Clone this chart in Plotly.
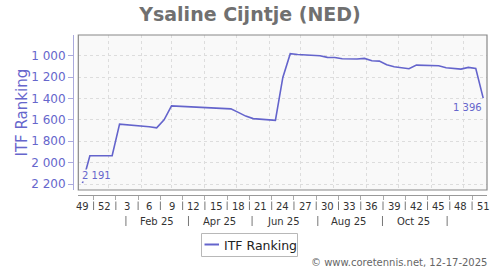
import datetime as dt
import plotly.graph_objects as go

# ---------------- data ----------------
weeks = [49, 50, 51, 52, 1, 2, 3, 4, 5, 6, 7, 8, 9, 10, 11, 12, 13, 14, 15, 16,
         17, 18, 19, 20, 21, 22, 23, 24, 25, 26, 27, 28, 29, 30, 31, 32, 33, 34,
         35, 36, 37, 38, 39, 40, 41, 42, 43, 44, 45, 46, 47, 48, 49, 50, 51]
week_years = [2024, 2024, 2024, 2024] + [2025] * 51
ranks = [2191, 1935, 1935, 1935, 1935, 1640, 1645, 1648, 1655, 1665, 1675, 1600,
         1469, 1473, 1478, 1482, 1485, 1486, 1488, 1492, 1497, 1530, 1565, 1588,
         1595, 1600, 1605, 1203, 981, 988, 994, 996, 1000, 1015, 1016, 1028, 1030,
         1031, 1025, 1047, 1050, 1084, 1103, 1112, 1122, 1088, 1088, 1088, 1094,
         1113, 1120, 1125, 1109, 1119, 1396]
week_tick_labels = ["49", "52", "3", "6", "9", "12", "15", "18", "21", "24", "27",
                    "30", "33", "36", "39", "42", "45", "48", "51"]
month_labels = ["Feb 25", "Apr 25", "Jun 25", "Aug 25", "Oct 25"]
month_label_dates = ["2025-02-15", "2025-04-15", "2025-06-15", "2025-08-15", "2025-10-15"]
month_sep_dates = ["2025-01-17", "2025-03-17", "2025-05-16", "2025-07-17", "2025-09-16", "2025-11-16"]
grid_dates = ["2025-01-01", "2025-02-01", "2025-03-01", "2025-04-01", "2025-05-01",
              "2025-06-01", "2025-07-01", "2025-08-01", "2025-09-01", "2025-10-01",
              "2025-11-01", "2025-12-01"]
y_ticks = [1000, 1200, 1400, 1600, 1800, 2000, 2200]
y_tick_text = ["1 000", "1 200", "1 400", "1 600", "1 800", "2 000", "2 200"]

title_text = "Ysaline Cijntje (NED)"
series_name = "ITF Ranking"
credit = "© www.coretennis.net, 12-17-2025"

# ---------------- helpers ----------------
W, H = 500, 270
ML, MR, MT, MB = 73, 13, 35, 75
PW, PH = W - ML - MR, H - MT - MB


def px2x(p):
    return (p - ML) / PW


def px2y(p):
    return (H - MB - p) / PH


def fmt(v):
    return f"{v:,}".replace(",", " ")


dates = [dt.datetime.combine(dt.date.fromisocalendar(y, w, 6), dt.time())
         for y, w in zip(week_years, weeks)]
label_idx = list(range(0, len(weeks), 3))
label_dates = [dates[i] for i in label_idx]
sep_dates = [label_dates[k] + (label_dates[k + 1] - label_dates[k]) / 2
             for k in range(len(label_dates) - 1)]

LINE = "#6464cc"
BLUE_TXT = "#6666cc"
GRID_DASH = "3px,3px"

fig = go.Figure()
fig.add_trace(go.Scatter(x=dates, y=ranks, mode="lines", name=series_name,
                         line=dict(color=LINE, width=1.6), showlegend=False,
                         hoverinfo="skip"))

shapes = []
annotations = []

# plot border
shapes.append(dict(type="rect", xref="x domain", yref="y domain", x0=0, x1=1, y0=0, y1=1,
                   line=dict(color="#888888", width=1.2), layer="above"))

# week labels + separators
for d, t in zip(label_dates, week_tick_labels):
    annotations.append(dict(x=d, y=px2y(206), xref="x", yref="paper", text=t,
                            showarrow=False, xanchor="center", yanchor="middle",
                            font=dict(family="DejaVu Sans", size=10, color="#333333")))
for d in sep_dates:
    shapes.append(dict(type="line", xref="x", yref="paper", x0=d, x1=d,
                       y0=px2y(201.5), y1=px2y(210), line=dict(color="#777777", width=1)))

# month labels + separators
for d, t in zip(month_label_dates, month_labels):
    annotations.append(dict(x=d, y=px2y(221), xref="x", yref="paper", text=t,
                            showarrow=False, xanchor="center", yanchor="middle",
                            font=dict(family="DejaVu Sans", size=10, color="#333333")))
for d in month_sep_dates:
    shapes.append(dict(type="line", xref="x", yref="paper", x0=d, x1=d,
                       y0=px2y(216), y1=px2y(226), line=dict(color="#777777", width=1)))

# value labels
annotations.append(dict(x=dates[0], y=ranks[0], xref="x", yref="y", text=fmt(ranks[0]),
                        showarrow=False, xanchor="left", yanchor="middle", yshift=8, xshift=-1,
                        bgcolor="#f9f9f9", borderpad=0,
                        font=dict(family="DejaVu Sans", size=10, color=BLUE_TXT)))
annotations.append(dict(x=dates[-1], y=ranks[-1], xref="x", yref="y", text=fmt(ranks[-1]),
                        showarrow=False, xanchor="right", yanchor="middle", yshift=-9, xshift=1,
                        font=dict(family="DejaVu Sans", size=10, color=BLUE_TXT)))

# y axis title
annotations.append(dict(x=px2x(21), y=px2y(112.5), xref="paper", yref="paper",
                        text=series_name, textangle=-90, showarrow=False,
                        xanchor="center", yanchor="middle",
                        font=dict(family="DejaVu Sans", size=15, color=BLUE_TXT)))

# legend (drawn manually)
shapes.append(dict(type="rect", xref="paper", yref="paper", x0=px2x(201.5), x1=px2x(297.5),
                   y0=px2y(256.5), y1=px2y(233.5), line=dict(color="#b8b8b8", width=1),
                   fillcolor="white"))
shapes.append(dict(type="line", xref="paper", yref="paper", x0=px2x(204.5), x1=px2x(219),
                   y0=px2y(244.5), y1=px2y(244.5), line=dict(color=LINE, width=2)))
annotations.append(dict(x=px2x(222), y=px2y(245), xref="paper", yref="paper",
                        text=series_name, showarrow=False, xanchor="left", yanchor="middle",
                        font=dict(family="DejaVu Sans", size=12.5, color="#222222")))

# credit
annotations.append(dict(x=px2x(489), y=px2y(262), xref="paper", yref="paper",
                        text=credit, showarrow=False, xanchor="right", yanchor="middle",
                        font=dict(family="DejaVu Sans", size=10, color="#666666")))

fig.update_layout(
    width=W, height=H,
    margin=dict(l=ML, r=MR, t=MT, b=MB, pad=0),
    paper_bgcolor="white",
    plot_bgcolor="#f9f9f9",
    showlegend=False,
    title=dict(text="<b>" + title_text + "</b>", x=0.5, xref="container", xanchor="center",
               y=1 - 14 / H, yref="container", yanchor="middle",
               font=dict(family="DejaVu Sans", size=19, color="#707070")),
    xaxis=dict(
        type="date",
        domain=[px2x(78.3), 1],
        anchor="free", position=0,
        range=["2024-12-03 02:00", "2025-12-23 14:00"],
        tickmode="array", tickvals=grid_dates, showticklabels=False, ticks="",
        showgrid=True, gridcolor="#dddddd", griddash=GRID_DASH, gridwidth=1,
        showline=True, linecolor="#999999", linewidth=1,
        minor=dict(tickmode="array", tickvals=sep_dates, ticks="outside", ticklen=4,
                   tickcolor="#aaaaaa", showgrid=False),
        zeroline=False, fixedrange=True,
    ),
    yaxis=dict(
        domain=[px2y(190), 1],
        anchor="free", position=0,
        autorange=False, range=[2256, 806],
        tickmode="array", tickvals=y_ticks, ticktext=y_tick_text,
        tickfont=dict(family="DejaVu Sans", size=12, color=BLUE_TXT),
        ticks="outside", ticklen=5, tickcolor="#aaaadd",
        showgrid=True, gridcolor="#dddddd", griddash=GRID_DASH, gridwidth=1,
        showline=True, linecolor="#aaaadd", linewidth=1,
        zeroline=False, fixedrange=True,
    ),
    shapes=shapes,
    annotations=annotations,
)

fig.write_html("out.html")
